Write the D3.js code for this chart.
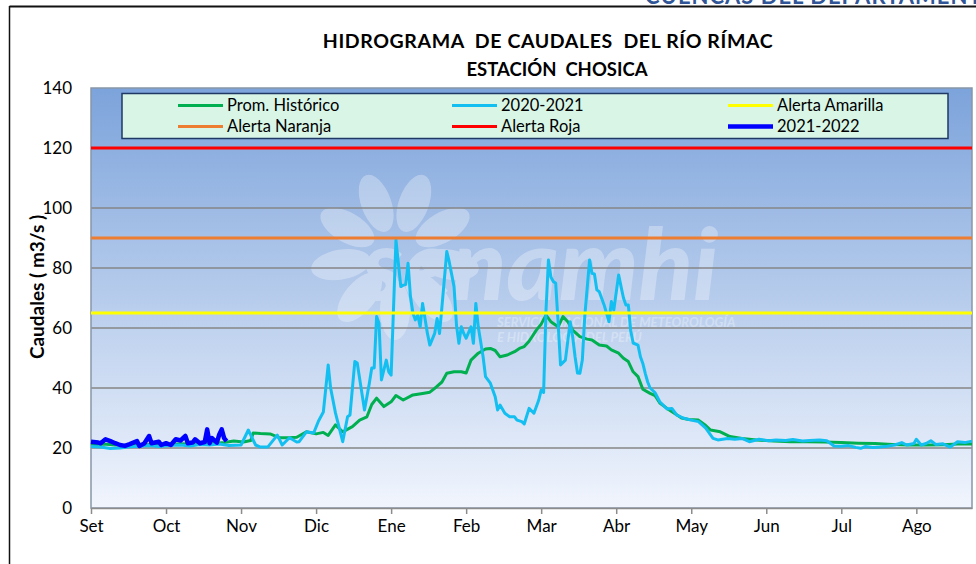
<!DOCTYPE html>
<html>
<head>
<meta charset="utf-8">
<script src="https://cdn.jsdelivr.net/npm/d3@7"></script>
<style>
  body { margin: 0; background: #fff; }
  svg { display: block; }
</style>
</head>
<body>
<div id="chart-area"></div>
<script>
// month labels, one every 31 days from 1 Sep
var months = ["Set", "Oct", "Nov", "Dic", "Ene", "Feb", "Mar", "Abr", "May", "Jun", "Jul", "Ago"];
var yTicks = [0, 20, 40, 60, 80, 100, 120, 140];

// Prom. Histórico (day index, m3/s)
var histDays = [0, 5, 10, 15, 20, 25, 30, 35, 40, 45, 50, 55, 59, 63, 66, 67, 70, 74, 78, 82, 85, 89, 93, 96, 98, 101, 104, 108, 111, 114, 116, 118, 121, 124, 126, 129, 133, 137, 140, 142, 145, 147, 150, 153, 155, 157, 160, 163, 165, 167, 169, 172, 175, 177, 179, 181, 184, 186, 188, 190, 193, 195, 197, 199, 202, 205, 207, 210, 213, 215, 218, 220, 222, 224, 226, 228, 231, 233, 235, 238, 241, 244, 247, 251, 254, 256, 260, 264, 269, 275, 282, 289, 296, 303, 310, 317, 324, 331, 338, 345, 352, 358, 364];
var histQ = [21.0, 21.3, 21.0, 20.9, 21.0, 21.2, 21.1, 21.3, 21.4, 21.5, 21.4, 21.8, 22.3, 22.0, 22.5, 25.0, 24.8, 24.7, 23.4, 23.4, 23.6, 25.4, 24.7, 25.2, 24.2, 27.7, 25.4, 27.1, 29.3, 30.4, 34.5, 36.6, 33.8, 35.4, 37.5, 36.0, 37.7, 38.2, 38.6, 39.9, 42.0, 44.9, 45.4, 45.4, 45.0, 49.3, 51.6, 53.0, 53.2, 52.5, 50.4, 51.0, 52.1, 53.2, 53.8, 55.6, 59.3, 61.3, 64.3, 62.1, 60.4, 63.8, 62.1, 59.3, 57.1, 56.3, 56.0, 54.3, 54.0, 52.7, 51.6, 49.9, 48.8, 45.4, 43.8, 39.6, 38.2, 37.5, 35.0, 33.2, 31.6, 30.0, 29.5, 29.3, 27.5, 26.0, 25.4, 23.8, 23.2, 22.7, 22.3, 22.1, 22.1, 22.0, 21.8, 21.6, 21.5, 21.2, 21.0, 21.0, 21.1, 21.3, 21.3];

// 2020-2021
var s2020Days = [0, 4, 8, 12, 16, 20, 24, 28, 33, 37, 41, 45, 49, 53, 57, 62, 65, 68, 70, 73, 77, 79, 82, 85, 86, 89, 92, 94, 96, 98, 99, 101, 104, 106, 107, 109, 110, 113, 114, 115, 116, 117, 118, 119, 120, 122, 123, 124, 126, 128, 129, 130, 131, 132, 133, 134, 135, 136, 137, 139, 140, 142, 143, 144, 145, 147, 148, 150, 151, 152, 153, 154, 155, 157, 158, 159, 160, 162, 163, 165, 167, 168, 169, 171, 173, 175, 176, 178, 179, 181, 183, 185, 186, 187, 188, 189, 190, 191, 192, 193, 194, 196, 198, 199, 200, 201, 202, 203, 204, 206, 207, 208, 209, 210, 212, 214, 215, 216, 218, 219, 220, 221, 222, 223, 224, 226, 227, 228, 229, 230, 231, 233, 235, 238, 240, 242, 245, 248, 251, 254, 257, 259, 263, 266, 269, 272, 276, 280, 283, 287, 290, 294, 297, 301, 304, 307, 310, 313, 316, 318, 320, 323, 326, 329, 332, 335, 337, 340, 341, 343, 345, 347, 349, 352, 355, 358, 361, 364];
var s2020Q = [20.5, 20.3, 19.8, 20.0, 20.4, 20.6, 20.8, 20.5, 20.9, 21.0, 20.7, 21.2, 21.0, 21.3, 20.8, 21.0, 26.0, 21.0, 20.3, 20.3, 24.3, 21.0, 23.4, 22.0, 22.1, 25.4, 25.0, 29.0, 32.0, 47.7, 40.0, 31.7, 22.1, 30.4, 31.0, 48.8, 48.3, 32.7, 37.1, 41.6, 46.7, 46.7, 63.8, 61.6, 42.7, 49.3, 45.4, 44.3, 89.3, 73.8, 74.3, 74.5, 81.6, 70.4, 65.0, 62.7, 64.3, 60.4, 68.2, 58.2, 54.3, 58.2, 63.2, 58.2, 67.1, 85.5, 82.1, 73.8, 61.0, 54.9, 60.4, 58.2, 56.6, 60.4, 54.9, 68.2, 60.4, 50.4, 43.8, 41.6, 37.1, 32.7, 34.3, 31.6, 30.4, 30.4, 29.3, 28.8, 28.0, 33.2, 31.6, 36.0, 39.3, 38.5, 66.0, 82.7, 77.0, 75.5, 74.9, 61.6, 47.7, 49.3, 62.1, 57.1, 50.4, 45.0, 44.9, 49.3, 63.8, 82.7, 78.2, 78.0, 72.7, 72.1, 67.7, 62.1, 68.8, 66.0, 77.7, 73.8, 70.0, 67.7, 67.7, 59.0, 55.0, 54.3, 50.4, 48.2, 44.9, 42.0, 40.0, 38.5, 35.4, 33.0, 33.2, 31.0, 29.9, 29.3, 28.8, 26.6, 23.2, 22.7, 23.2, 22.9, 23.2, 22.1, 22.9, 22.4, 22.7, 22.5, 22.8, 22.3, 22.5, 22.7, 22.4, 20.7, 20.6, 20.8, 20.2, 19.9, 20.5, 20.2, 20.3, 20.6, 21.0, 21.8, 21.0, 21.5, 22.9, 21.0, 21.5, 22.4, 21.2, 21.4, 20.3, 22.1, 21.8, 22.3];

// 2021-2022
var s2021Days = [0, 3, 4, 6, 8, 10, 12, 14, 16, 19, 20, 22, 24, 25, 28, 29, 31, 33, 35, 37, 39, 40, 42, 43, 45, 47, 48, 49, 50, 52, 53, 54, 55, 56];
var s2021Q = [22.1, 21.8, 21.6, 22.9, 22.3, 21.6, 21.0, 20.7, 21.3, 22.3, 20.7, 21.5, 24.0, 21.6, 22.1, 21.0, 21.6, 21.0, 22.9, 22.5, 24.0, 21.6, 21.8, 22.9, 21.6, 22.0, 26.2, 21.6, 23.3, 21.8, 24.5, 26.2, 23.3, 22.3];

// alert thresholds
var alertNames = ["Alerta Amarilla", "Alerta Naranja", "Alerta Roja"];
var alertValues = [65, 90, 120];

var width = 976, height = 564;
var margin = { left: 91, right: 4, top: 88, bottom: 56 };
var font = "Lato, 'Open Sans', sans-serif";

var svg = d3.select("#chart-area").append("svg")
  .attr("width", width)
  .attr("height", height);

var x = d3.scaleLinear().domain([0, 364]).range([margin.left, width - margin.right]);
var y = d3.scaleLinear().domain([0, 140]).range([height - margin.bottom, margin.top]);

// background gradient of the plot area
var grad = svg.append("defs").append("linearGradient")
  .attr("id", "bg").attr("x1", 0).attr("y1", 0).attr("x2", 0).attr("y2", 1);
grad.append("stop").attr("offset", "0%").attr("stop-color", "#7ca3db");
grad.append("stop").attr("offset", "100%").attr("stop-color", "#f1f5fd");

// outer frame
svg.append("line").attr("x1", 9.5).attr("x2", width).attr("y1", 6.5).attr("y2", 6.5)
  .attr("stroke", "#111").attr("stroke-width", 2);
svg.append("line").attr("x1", 9.5).attr("x2", 9.5).attr("y1", 6).attr("y2", height)
  .attr("stroke", "#111").attr("stroke-width", 1.5);
svg.append("text")
  .attr("x", 645).attr("y", 4)
  .style("font-family", font).style("font-size", "22px")
  .style("font-weight", "bold").style("fill", "#2f5597")
  .style("letter-spacing", "1px")
  .text("CUENCAS DEL DEPARTAMENTO");

svg.append("rect")
  .attr("x", x(0)).attr("y", y(140))
  .attr("width", x(364) - x(0)).attr("height", y(0) - y(140))
  .attr("fill", "url(#bg)");

// senamhi watermark
var wm = svg.append("g").attr("opacity", 0.3).attr("fill", "#fff");
d3.range(9).forEach(function(i) {
  wm.append("ellipse")
    .attr("cx", 395).attr("cy", 200).attr("rx", 15).attr("ry", 30)
    .attr("transform", "rotate(" + (i * 40 - 20) + ",395,255)");
});
wm.append("text")
  .attr("x", 362).attr("y", 300)
  .style("font-family", font).style("font-size", "100px")
  .style("font-weight", "900").style("font-style", "italic")
  .text("senamhi");
wm.append("text")
  .attr("x", 497).attr("y", 327)
  .style("font-family", font).style("font-size", "13px")
  .style("font-weight", "bold").style("font-style", "italic")
  .text("SERVICIO NACIONAL DE METEOROLOGÍA");
wm.append("text")
  .attr("x", 497).attr("y", 342)
  .style("font-family", font).style("font-size", "13px")
  .style("font-weight", "bold").style("font-style", "italic")
  .text("E HIDROLOGÍA DEL PERÚ");

// grid lines
svg.selectAll(".grid").data(yTicks.slice(1, -1)).enter()
  .append("line")
    .attr("class", "grid")
    .attr("x1", x(0)).attr("x2", x(364))
    .attr("y1", function(d) { return y(d); })
    .attr("y2", function(d) { return y(d); })
    .attr("stroke", "#868686").attr("stroke-width", 1.5);

// plot frame
svg.append("rect")
  .attr("x", x(0)).attr("y", y(140))
  .attr("width", x(364) - x(0)).attr("height", y(0) - y(140))
  .attr("fill", "none").attr("stroke", "#8896a8").attr("stroke-width", 1.5);

// axes
var xAxis = d3.axisBottom(x)
  .tickValues(months.map(function(m, i) { return i * 31; }))
  .tickFormat(function(d, i) { return months[i]; })
  .tickSizeInner(6).tickSizeOuter(0).tickPadding(6);
var gx = svg.append("g").attr("transform", "translate(0," + y(0) + ")").call(xAxis);
gx.select(".domain").attr("stroke", "#8c8c8c").attr("stroke-width", 1.5);
gx.selectAll(".tick line").attr("stroke", "#8c8c8c").attr("stroke-width", 1.5);
gx.selectAll("text").style("font-family", font).style("font-size", "17px").style("fill", "#000");

var yAxis = d3.axisLeft(y).tickValues(yTicks).tickSize(0).tickPadding(19);
var gy = svg.append("g").attr("transform", "translate(" + x(0) + ",0)").call(yAxis);
gy.select(".domain").remove();
gy.selectAll("text").style("font-family", font).style("font-size", "17px").style("fill", "#000");

svg.append("text")
  .attr("transform", "translate(44,287) rotate(-90)")
  .attr("text-anchor", "middle")
  .style("font-family", font).style("font-size", "19px").style("font-weight", "bold")
  .text("Caudales ( m3/s )");

// titles
svg.append("text")
  .attr("x", 548).attr("y", 48).attr("text-anchor", "middle")
  .style("font-family", font).style("font-size", "19.5px").style("font-weight", "bold")
  .style("letter-spacing", "0.6px").style("white-space", "pre")
  .text("HIDROGRAMA  DE CAUDALES  DEL RÍO RÍMAC");
svg.append("text")
  .attr("x", 557).attr("y", 76).attr("text-anchor", "middle")
  .style("font-family", font).style("font-size", "18.5px").style("font-weight", "bold")
  .style("white-space", "pre")
  .text("ESTACIÓN  CHOSICA");

// series
function series(days, q) {
  return days.map(function(d, i) { return [d, q[i]]; });
}
var line = d3.line()
  .x(function(d) { return x(d[0]); })
  .y(function(d) { return y(d[1]); });

var alertColors = ["#ffff00", "#ed7d31", "#ff0000"];

svg.append("path").datum(series(histDays, histQ))
  .attr("d", line).attr("fill", "none")
  .attr("stroke", "#00b050").attr("stroke-width", 3).attr("stroke-linejoin", "round");
svg.append("path").datum(series(s2020Days, s2020Q))
  .attr("d", line).attr("fill", "none")
  .attr("stroke", "#13bff0").attr("stroke-width", 3).attr("stroke-linejoin", "round");

svg.selectAll(".alert").data(alertValues).enter()
  .append("line")
    .attr("class", "alert")
    .attr("x1", x(0)).attr("x2", x(364))
    .attr("y1", function(d) { return y(d); })
    .attr("y2", function(d) { return y(d); })
    .attr("stroke", function(d, i) { return alertColors[i]; })
    .attr("stroke-width", 3);

svg.append("path").datum(series(s2021Days, s2021Q))
  .attr("d", line).attr("fill", "none")
  .attr("stroke", "#0000ff").attr("stroke-width", 4.5).attr("stroke-linejoin", "round");

// legend
var legendItems = [
  { name: "Prom. Histórico", color: "#00b050", w: 3 },
  { name: "2020-2021", color: "#13bff0", w: 3 },
  { name: alertNames[0], color: alertColors[0], w: 3 },
  { name: alertNames[1], color: alertColors[1], w: 3 },
  { name: alertNames[2], color: alertColors[2], w: 3 },
  { name: "2021-2022", color: "#0000ff", w: 4.5 }
];
var colX = [178, 452, 728];
var rowY = [105.5, 126.5];

svg.append("rect")
  .attr("x", 122).attr("y", 93.5).attr("width", 826).attr("height", 45)
  .attr("fill", "#d8f5e6").attr("stroke", "#1f3864").attr("stroke-width", 1.5);

var items = svg.selectAll(".leg").data(legendItems).enter()
  .append("g")
    .attr("class", "leg")
    .attr("transform", function(d, i) {
      return "translate(" + colX[i % 3] + "," + rowY[Math.floor(i / 3)] + ")";
    });
items.append("line")
  .attr("x1", 0).attr("x2", 45)
  .attr("stroke", function(d) { return d.color; })
  .attr("stroke-width", function(d) { return d.w; });
items.append("text")
  .attr("x", 49).attr("y", 5.5)
  .style("font-family", font).style("font-size", "16.5px")
  .text(function(d) { return d.name; });
</script>
</body>
</html>
